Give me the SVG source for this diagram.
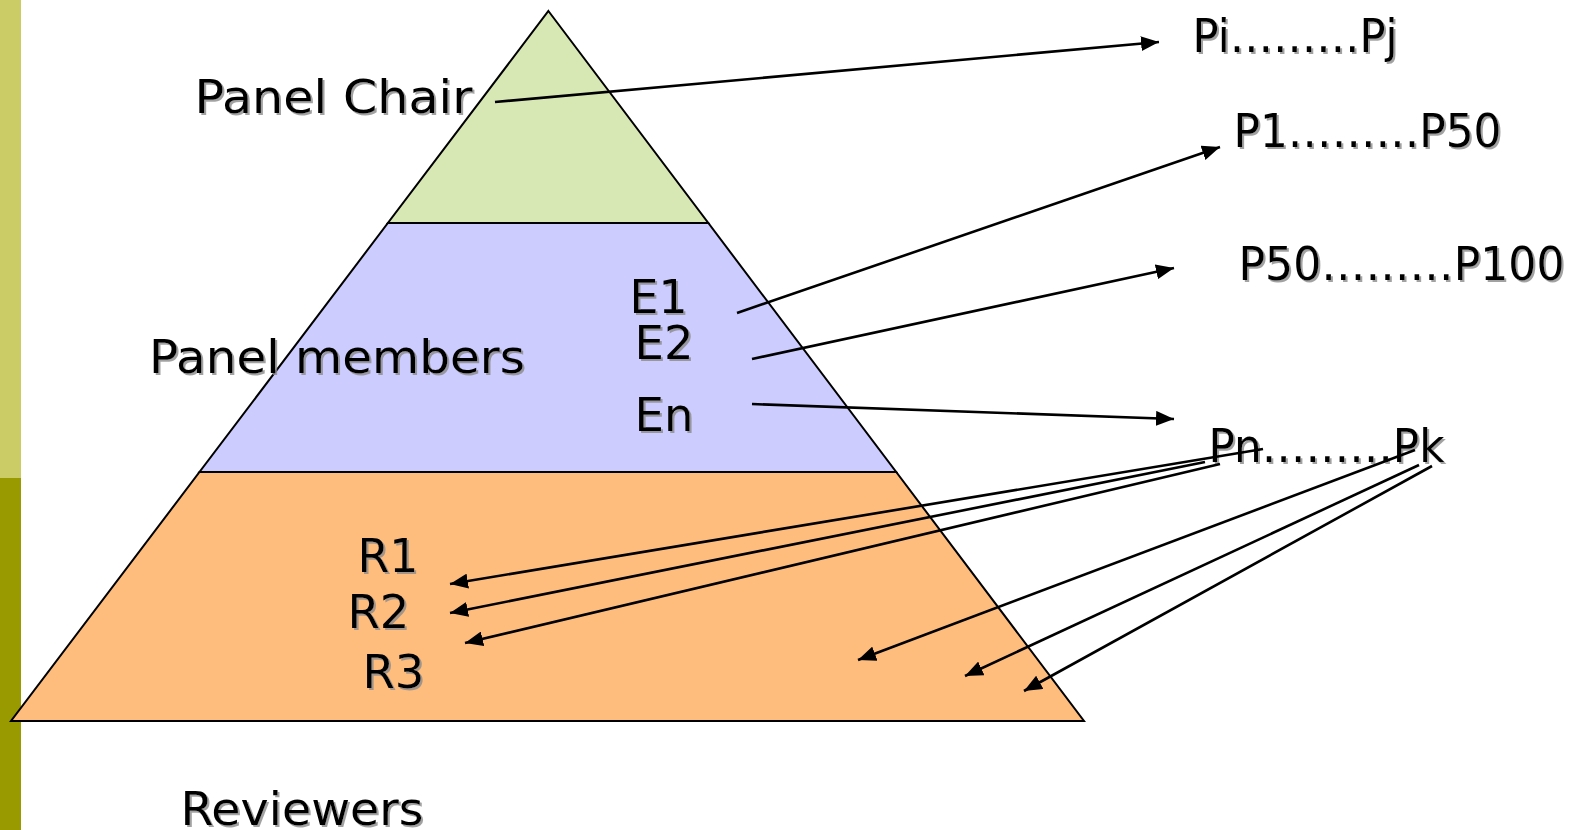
<svg xmlns="http://www.w3.org/2000/svg" width="1573" height="830" viewBox="0 0 1573 830">
<defs>
<style>
.t{font-family:"DejaVu Sans","Verdana",sans-serif;font-size:46px;fill:#000;filter:url(#sh)}
.c{stroke:#000;stroke-width:2.6;fill:none;marker-end:url(#ah)}
.tier{stroke:#000;stroke-width:2;stroke-linejoin:miter}
</style>
<filter id="sh" x="-10%" y="-30%" width="130%" height="160%">
<feDropShadow dx="2" dy="2" stdDeviation="0.6" flood-color="#8a8a8a" flood-opacity="0.8"/>
</filter>
<marker id="ah" markerUnits="userSpaceOnUse" markerWidth="18" markerHeight="15" refX="18" refY="7.5" orient="auto">
<path d="M0,0 L18,7.5 L0,15 z" fill="#000"/>
</marker>
</defs>
<rect width="1573" height="830" fill="#fff"/>
<g id="sidebar">
<rect x="0" y="0" width="21" height="478" fill="#CCCC66"/>
<rect x="0" y="478" width="21" height="352" fill="#999900"/>
</g>
<g id="tier-chair">
<polygon class="tier" points="548.4,11 708.3,223 387.9,223" fill="#D8E8B4"/>
</g>
<g id="tier-members">
<polygon class="tier" points="387.9,223 708.3,223 896.2,472 199.5,472" fill="#CCCCFF"/>
</g>
<g id="tier-reviewers">
<polygon class="tier" points="199.5,472 896.2,472 1084,721 11,721" fill="#FFBD7D"/>
</g>
<g id="labels">
<text class="t" x="194.5" y="113" textLength="278" lengthAdjust="spacingAndGlyphs">Panel Chair</text>
<text class="t" x="149" y="373" textLength="376" lengthAdjust="spacingAndGlyphs">Panel members</text>
<text class="t" x="180.5" y="825" textLength="243" lengthAdjust="spacingAndGlyphs">Reviewers</text>
<text class="t" x="629.5" y="313" textLength="58" lengthAdjust="spacingAndGlyphs">E1</text>
<text class="t" x="634.5" y="359" textLength="59" lengthAdjust="spacingAndGlyphs">E2</text>
<text class="t" x="634.5" y="431" textLength="59" lengthAdjust="spacingAndGlyphs">En</text>
<text class="t" x="357.5" y="572" textLength="61" lengthAdjust="spacingAndGlyphs">R1</text>
<text class="t" x="347.5" y="628" textLength="62" lengthAdjust="spacingAndGlyphs">R2</text>
<text class="t" x="362.5" y="688" textLength="62" lengthAdjust="spacingAndGlyphs">R3</text>
</g>
<g id="node-pipj"><text class="t" x="1192.5" y="52" textLength="205" lengthAdjust="spacingAndGlyphs">Pi………Pj</text></g>
<g id="node-p1p50"><text class="t" x="1233.5" y="147" textLength="268" lengthAdjust="spacingAndGlyphs">P1………P50</text></g>
<g id="node-p50p100"><text class="t" x="1238.5" y="280" textLength="326" lengthAdjust="spacingAndGlyphs">P50………P100</text></g>
<g id="node-pnpk"><text class="t" x="1208.5" y="462" textLength="236" lengthAdjust="spacingAndGlyphs">Pn………Pk</text></g>
<g id="connectors">
<line class="c" x1="495" y1="102" x2="1159" y2="42"/>
<line class="c" x1="737" y1="313" x2="1220" y2="147"/>
<line class="c" x1="752" y1="359" x2="1174" y2="268"/>
<line class="c" x1="752" y1="404" x2="1174" y2="419"/>
<line class="c" x1="1263" y1="449" x2="450" y2="584"/>
<line class="c" x1="1205" y1="462" x2="450" y2="613"/>
<line class="c" x1="1220" y1="464" x2="465" y2="643"/>
<line class="c" x1="1415" y1="450" x2="858" y2="660"/>
<line class="c" x1="1419" y1="465" x2="965" y2="676"/>
<line class="c" x1="1432" y1="466" x2="1024" y2="691"/>
</g>
</svg>
